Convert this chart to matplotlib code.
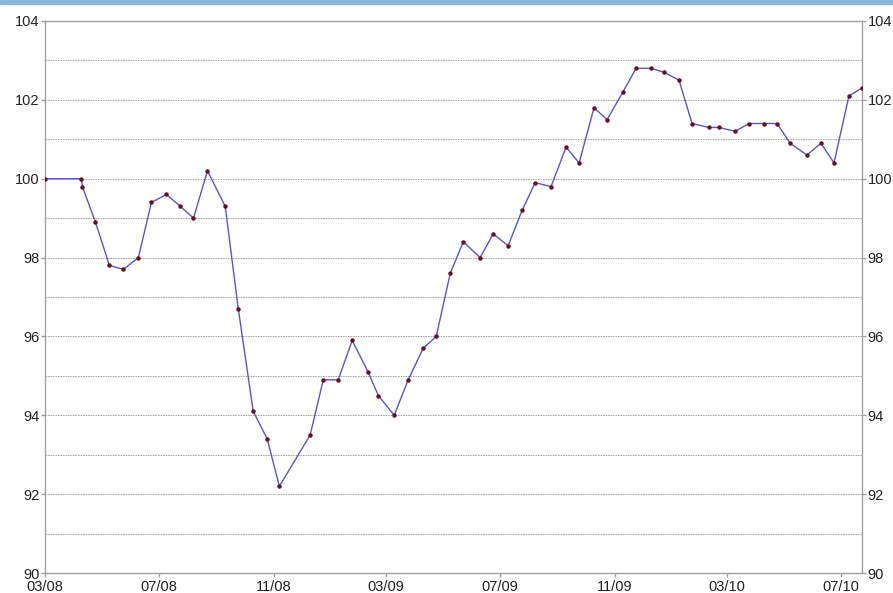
import pandas as pd
import matplotlib
matplotlib.use('Agg')
import matplotlib.pyplot as plt
import matplotlib.dates as mdates
from matplotlib.patches import Rectangle

plt.rcParams['font.family'] = ['Liberation Sans', 'DejaVu Sans']

# roughly twice a month
dates = ['2008-03-01', '2008-04-09', '2008-04-10', '2008-04-24', '2008-05-09', '2008-05-24',
         '2008-06-09', '2008-06-23', '2008-07-09', '2008-07-24', '2008-08-07', '2008-08-22',
         '2008-09-10', '2008-09-24', '2008-10-10', '2008-10-25', '2008-11-07', '2008-12-10',
         '2008-12-24', '2009-01-09', '2009-01-24', '2009-02-10', '2009-02-21', '2009-03-10',
         '2009-03-25', '2009-04-10', '2009-04-24', '2009-05-09', '2009-05-23', '2009-06-10',
         '2009-06-24', '2009-07-10', '2009-07-25', '2009-08-08', '2009-08-25', '2009-09-10',
         '2009-09-24', '2009-10-10', '2009-10-24', '2009-11-10', '2009-11-24', '2009-12-10',
         '2009-12-24', '2010-01-09', '2010-01-23', '2010-02-10', '2010-02-21', '2010-03-10',
         '2010-03-25', '2010-04-10', '2010-04-24', '2010-05-08', '2010-05-26', '2010-06-10',
         '2010-06-24', '2010-07-10', '2010-07-24']
values = [100.0, 100.0, 99.8, 98.9, 97.8, 97.7,
          98.0, 99.4, 99.6, 99.3, 99.0, 100.2,
          99.3, 96.7, 94.1, 93.4, 92.2, 93.5,
          94.9, 94.9, 95.9, 95.1, 94.5, 94.0,
          94.9, 95.7, 96.0, 97.6, 98.4, 98.0,
          98.6, 98.3, 99.2, 99.9, 99.8, 100.8,
          100.4, 101.8, 101.5, 102.2, 102.8, 102.8,
          102.7, 102.5, 101.4, 101.3, 101.3, 101.2,
          101.4, 101.4, 101.4, 100.9, 100.6, 100.9,
          100.4, 102.1, 102.3]
tick_dates = ['2008-03-01', '2008-07-01', '2008-11-01', '2009-03-01',
              '2009-07-01', '2009-11-01', '2010-03-01', '2010-07-01']

x = pd.to_datetime(dates)

fig = plt.figure(figsize=(8.93, 5.93), dpi=100)
ax = fig.add_axes([0.0504, 0.0337, 0.9149, 0.9309])

# header strip
fig.patches.append(Rectangle((0, 0.994), 1, 0.006, transform=fig.transFigure,
                             color='#8bb5da', zorder=0))

for v in range(91, 104):
	ax.axhline(v, color='#999999', linewidth=0.6, linestyle=(0, (2, 1)), zorder=1)

ax.plot(x, values, color='#5555dd', linewidth=1, zorder=2)
ax.plot(x, values, linestyle='none', marker='o', markersize=2.2,
        color='#6b0f1a', zorder=3)

ax.set_xlim(x[0], x[-1])
ax.set_ylim(90, 104)
ax.set_yticks(range(90, 105, 2))
ax.set_xticks(pd.to_datetime(tick_dates))
ax.xaxis.set_major_formatter(mdates.DateFormatter('%m/%y'))

for s in ax.spines.values():
	s.set_color('#a0a0a0')
	s.set_linewidth(1)

ax.tick_params(axis='both', direction='out', length=3, color='#a0a0a0',
               labelsize=10.5, labelcolor='#222222', width=1)
ax.tick_params(axis='x', pad=2)
ax.tick_params(axis='y', left=True, right=True, labelright=True, pad=1)

fig.savefig('out.png', dpi=100)
